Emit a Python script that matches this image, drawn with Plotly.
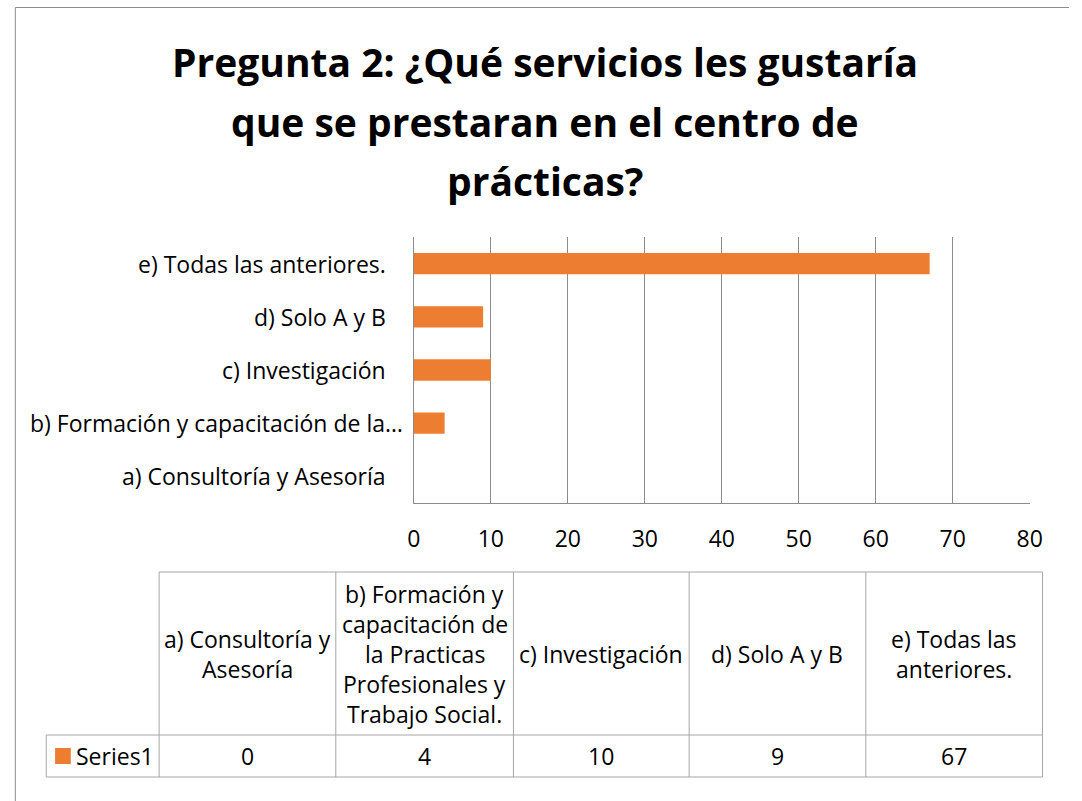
import plotly.graph_objects as go

# ---- data ----
categories = [
    "a) Consultoría y Asesoría",
    "b) Formación y capacitación de la Practicas Profesionales y Trabajo Social.",
    "c) Investigación",
    "d) Solo A y B",
    "e) Todas las anteriores.",
]
axis_labels = [
    "a) Consultoría y Asesoría",
    "b) Formación y capacitación de la…",
    "c) Investigación",
    "d) Solo A y B",
    "e) Todas las anteriores.",
]
table_headers = [
    "a) Consultoría y<br>Asesoría",
    "b) Formación y<br>capacitación de<br>la Practicas<br>Profesionales y<br>Trabajo Social.",
    "c) Investigación",
    "d) Solo A y B",
    "e) Todas las<br>anteriores.",
]
series_name = "Series1"
values = [0, 4, 10, 9, 67]
x_ticks = [0, 10, 20, 30, 40, 50, 60, 70, 80]
title_lines = [
    "Pregunta 2: ¿Qué servicios les gustaría",
    "que se prestaran en el centro de",
    "prácticas?",
]

# ---- styling ----
W, H = 1082, 801
FONT = "Open Sans"
ORANGE = "#ED7D31"
GRID = "#8C8C8C"
BORDER = "#A6A6A6"
TXT = "#000000"
FS = 23


def px(x):
    return x / W


def py(y):
    return 1 - y / H


fig = go.Figure()
fig.add_trace(go.Bar(
    x=values, y=categories, orientation="h",
    marker=dict(color=ORANGE, line=dict(width=0)),
    name=series_name, showlegend=False, hoverinfo="x+y",
))

plot_l, plot_r, plot_t, plot_b = 414.5, 1042, 237, 503

fig.update_layout(
    width=W, height=H,
    margin=dict(l=0, r=0, t=0, b=0),
    paper_bgcolor="white", plot_bgcolor="white",
    bargap=0.6,
    font=dict(family=FONT, size=FS, color=TXT),
    xaxis=dict(
        domain=[px(plot_l), px(plot_r)],
        range=[0, 80], tickvals=x_ticks, ticktext=[str(v) for v in x_ticks],
        showgrid=True, gridcolor=GRID, gridwidth=1,
        showline=True, linecolor=GRID, linewidth=1,
        zeroline=False, ticks="", ticklabelstandoff=15,
        tickfont=dict(family=FONT, size=FS, color=TXT),
        fixedrange=True,
    ),
    yaxis=dict(
        domain=[py(plot_b), py(plot_t)],
        categoryorder="array", categoryarray=categories,
        showline=True, linecolor=GRID, linewidth=1,
        showgrid=False, zeroline=False, ticks="", showticklabels=False,
        fixedrange=True,
    ),
)

shapes = []
annotations = []

# category labels (the truncated one overhangs slightly, as in Excel)
label_right = [388, 406, 388, 388, 388]
for cat, lab, xr in zip(categories, axis_labels, label_right):
    annotations.append(dict(x=px(xr), y=cat, xref="paper", yref="y",
                            text=lab, showarrow=False,
                            xanchor="right", yanchor="middle",
                            font=dict(family=FONT, size=FS, color=TXT)))

# outer chart border: only left and top edges are visible in the reference
frame = dict(color="#8C8C8C", width=1)
shapes.append(dict(type="line", xref="paper", yref="paper",
                   x0=px(8.5), x1=px(8.5), y0=0, y1=py(7.5), line=frame))
shapes.append(dict(type="line", xref="paper", yref="paper",
                   x0=px(8.5), x1=1, y0=py(7.5), y1=py(7.5), line=frame))

# title
title_cx = 548
title_y = [62, 121, 180]
for line, yy in zip(title_lines, title_y):
    annotations.append(dict(x=px(title_cx), y=py(yy), xref="paper", yref="paper",
                            text="<b>" + line + "</b>", showarrow=False,
                            xanchor="center", yanchor="middle",
                            font=dict(family=FONT, size=39, color=TXT)))

# data table
col_edges = [155, 335, 516, 695, 875, 1055]
row_top, row_mid, row_bot = 572, 735, 777
left_cell = 40
line_style = dict(color=BORDER, width=1)


def hline(x0, x1, y):
    shapes.append(dict(type="line", xref="paper", yref="paper",
                       x0=px(x0), x1=px(x1), y0=py(y), y1=py(y), line=line_style))


def vline(x, y0, y1):
    shapes.append(dict(type="line", xref="paper", yref="paper",
                       x0=px(x), x1=px(x), y0=py(y0), y1=py(y1), line=line_style))


hline(col_edges[0], col_edges[-1], row_top)
hline(left_cell, col_edges[-1], row_mid)
hline(left_cell, col_edges[-1], row_bot)
vline(left_cell, row_mid, row_bot)
for xe in col_edges:
    vline(xe, row_top, row_bot)

line_h = 30
head_cy = (row_top + row_mid) / 2
val_cy = (row_mid + row_bot) / 2
for i, (hdr, val) in enumerate(zip(table_headers, values)):
    cx = (col_edges[i] + col_edges[i + 1]) / 2
    parts = hdr.split("<br>")
    n = len(parts)
    for j, part in enumerate(parts):
        yy = head_cy + (j - (n - 1) / 2) * line_h
        annotations.append(dict(x=px(cx), y=py(yy), xref="paper", yref="paper",
                                text=part, showarrow=False,
                                xanchor="center", yanchor="middle",
                                font=dict(family=FONT, size=FS, color=TXT)))
    annotations.append(dict(x=px(cx), y=py(val_cy), xref="paper", yref="paper",
                            text=str(val), showarrow=False,
                            xanchor="center", yanchor="middle",
                            font=dict(family=FONT, size=FS, color=TXT)))

# legend key in table
shapes.append(dict(type="rect", xref="paper", yref="paper",
                   x0=px(49), x1=px(65), y0=py(764), y1=py(748),
                   line=dict(width=0), fillcolor=ORANGE))
annotations.append(dict(x=px(68), y=py(val_cy), xref="paper", yref="paper",
                        text=series_name, showarrow=False,
                        xanchor="left", yanchor="middle",
                        font=dict(family=FONT, size=FS, color=TXT)))

fig.update_layout(shapes=shapes, annotations=annotations)
fig.write_html(
    "out.html",
    config=dict(displayModeBar=False),
    post_script="document.body.style.margin='0';document.body.style.overflow='hidden';",
)
